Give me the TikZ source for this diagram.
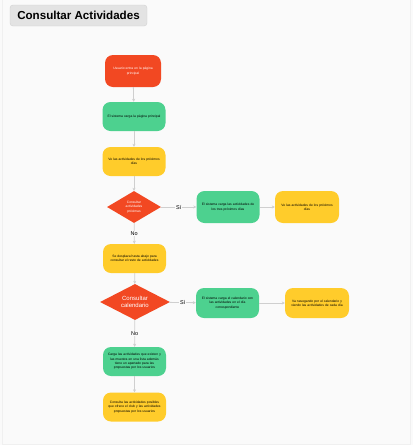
\documentclass[tikz,border=0pt]{standalone}
\usepackage{fontspec}
\setmainfont{Liberation Sans}
\usetikzlibrary{shapes.geometric,arrows.meta}

\definecolor{rojo}{HTML}{F24822}
\definecolor{verde}{HTML}{4DD18F}
\definecolor{amarillo}{HTML}{FFCC2B}
\definecolor{flecha}{HTML}{CFCFCF}
\definecolor{fondo}{HTML}{FAFAFA}
\definecolor{titulo}{HTML}{E3E3E3}

\tikzset{
  caja/.style={rounded corners=8pt, minimum width=63pt, minimum height=29pt,
    text width=60pt, align=center, inner sep=1pt,
    font=\fontsize{3.3}{4.3}\selectfont},
  inicio/.style={caja, fill=rojo, text=white, minimum width=56pt, minimum height=32pt, text width=52pt},
  proceso/.style={caja, fill=verde},
  accion/.style={caja, fill=amarillo},
  decision/.style={diamond, fill=rojo, text=white, aspect=1.7, inner sep=0pt, align=center},
  flujo/.style={draw=flecha, line width=0.8pt, -{Stealth[length=3pt,width=3pt]}},
  etiqueta/.style={fill=fondo, inner sep=1pt, font=\fontsize{5.5}{6}\selectfont}
}

\begin{document}
\begin{tikzpicture}[x=1pt, y=-1pt]
    \useasboundingbox[fill=fondo] (0,0) rectangle (413,445);
    \draw[gray!12] (2,0) -- (2,444) -- (410,444) -- (410,0);
    \node[draw=gray!35, fill=titulo, rounded corners=3pt, minimum width=137pt, minimum height=21pt,
      inner sep=0pt, font=\bfseries\fontsize{11.6}{13}\selectfont] (tit) at (78.5,15.5) {Consultar Actividades};

    % columna principal
    \node[inicio] (usuario) at (133,71) {Usuario entra en la página\\principal};
    \node[proceso] (carga) at (134,116.5) {El sistema carga la página principal};
    \node[accion] (ve) at (134,161.5) {Ve las actividades de los próximos\\días};
    \node[decision, minimum width=54pt, minimum height=32pt, font=\fontsize{3.3}{4.3}\selectfont]
      (prox) at (134,207) {Consultar\\actividades\\próximas};
    \node[accion] (baja) at (134.5,258.5) {Se desplaza hasta abajo para\\consultar el resto de actividades};
    \node[decision, minimum width=70pt, minimum height=36pt, font=\fontsize{6}{7.5}\selectfont]
      (cal) at (135,302) {Consultar\\calendario};
    \node[proceso] (lista) at (134.5,361.5) {Carga las actividades que existen y\\las muestra en una lista además\\tiene un apartado para las\\propuestas por los usuarios};
    \node[accion] (club) at (134.5,407) {Consulta las actividades posibles\\que ofrece el club y las actividades\\propuestas por los usuarios};

    % ramas
    \node[proceso, minimum height=32pt] (tres) at (228,207) {El sistema carga las actividades de\\los tres próximos días};
    \node[accion, minimum height=32pt, minimum width=64pt] (vetres) at (307,207) {Ve las actividades de los próximos\\días};
    \node[proceso, minimum height=30pt] (calsis) at (227.5,303) {El sistema carga el calendario con\\las actividades en el día\\correspondiente};
    \node[accion, minimum height=30pt, minimum width=64pt] (navega) at (317,303) {Va navegando por el calendario y\\viendo las actividades de cada día};

    \draw[flujo] (usuario) -- (carga);
    \draw[flujo] (carga) -- (ve);
    \draw[flujo] (ve) -- (prox);
    \draw[flujo] (prox) -- node[etiqueta] {No} (baja);
    \draw[flujo] (baja) -- (cal);
    \draw[flujo] (cal) -- node[etiqueta] {No} (lista);
    \draw[flujo] (lista) -- (club);
    \draw[flujo] (prox) -- node[etiqueta] {Sí} (tres);
    \draw[flujo] (tres) -- (vetres);
    \draw[flujo] (cal) -- node[etiqueta] {Sí} (calsis);
    \draw[flujo] (calsis) -- (navega);
\end{tikzpicture}
\end{document}
